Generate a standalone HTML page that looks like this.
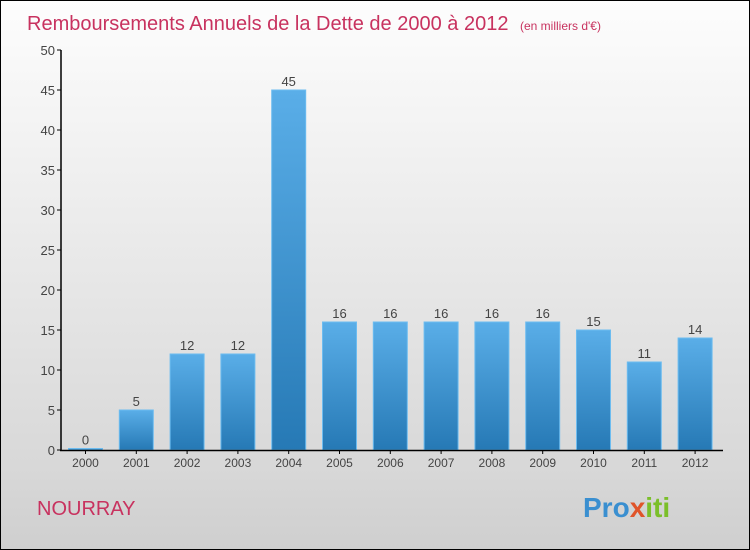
<!DOCTYPE html>
<html><head><meta charset="utf-8"><style>
body{margin:0;}
#wrap{position:relative;width:748px;height:548px;border:1px solid #000;background:linear-gradient(#fdfdfd,#f0f0f0 30%,#d8d8d8 85%,#cfcfcf);font-family:"Liberation Sans",sans-serif;overflow:hidden}
</style></head><body>
<div id="wrap">
<svg id="c" width="748" height="548">
<defs><linearGradient id="bg" x1="0" y1="0" x2="0" y2="1"><stop offset="0" stop-color="#5aaee8"/><stop offset="1" stop-color="#2679b5"/></linearGradient></defs>
<text x="26" y="29" font-size="20" fill="#c8325f">Remboursements Annuels de la Dette de 2000 à 2012 <tspan font-size="12" dx="6">(en milliers d'€)</tspan></text>
<text x="36" y="514" font-size="20" fill="#c8325f">NOURRAY</text>
<text x="582" y="516" font-size="28" font-weight="bold" fill="#3a8fd0">Pro<tspan fill="#e0542a">x</tspan><tspan fill="#7bbf2a">iti</tspan></text>
<g id="g"></g>
</svg>
</div>
<script>
const years=["2000","2001","2002","2003","2004","2005","2006","2007","2008","2009","2010","2011","2012"];
const values=[0,5,12,12,45,16,16,16,16,16,15,11,14];
const yTicks=[0,5,10,15,20,25,30,35,40,45,50];
const NS="http://www.w3.org/2000/svg";
const g=document.getElementById('g');
const y=v=>449-v*8;
const x=i=>84.5+i*50.8;
function mk(t,a){const e=document.createElementNS(NS,t);for(const k in a)e.setAttribute(k,a[k]);g.appendChild(e);return e;}
yTicks.forEach(t=>{
 const l=mk('line',{x1:56,x2:60,y1:y(t),y2:y(t),stroke:'#000'});
 
 
 const tx=mk('text',{x:54,y:y(t)+5,'font-size':13,'text-anchor':'end',fill:'#444'});
 tx.textContent=t;
 
 
});
values.forEach((v,i)=>{
 const h=Math.max(v*8,1.5);
 const r=mk('rect',{x:x(i)-17,y:449-h,width:34,height:h,fill:'url(#bg)',stroke:'#6cbcf0','stroke-width':1});
 
 
 const vl=mk('text',{x:x(i),y:449-h-4,'font-size':13,'text-anchor':'middle',fill:'#444'});
 vl.textContent=v;
 
 
 const tk=mk('line',{x1:x(i),x2:x(i),y1:449,y2:453,stroke:'#000'});
 
 
 const xl=mk('text',{x:x(i),y:466,'font-size':12,'text-anchor':'middle',fill:'#444'});
 xl.textContent=years[i];
 
 
});
const ya=mk('line',{x1:60,x2:60,y1:49,y2:450,stroke:'#000','stroke-width':1.5});


const xa=mk('line',{x1:59,x2:722,y1:449.5,y2:449.5,stroke:'#000','stroke-width':1.5});


</script>
</body></html>
